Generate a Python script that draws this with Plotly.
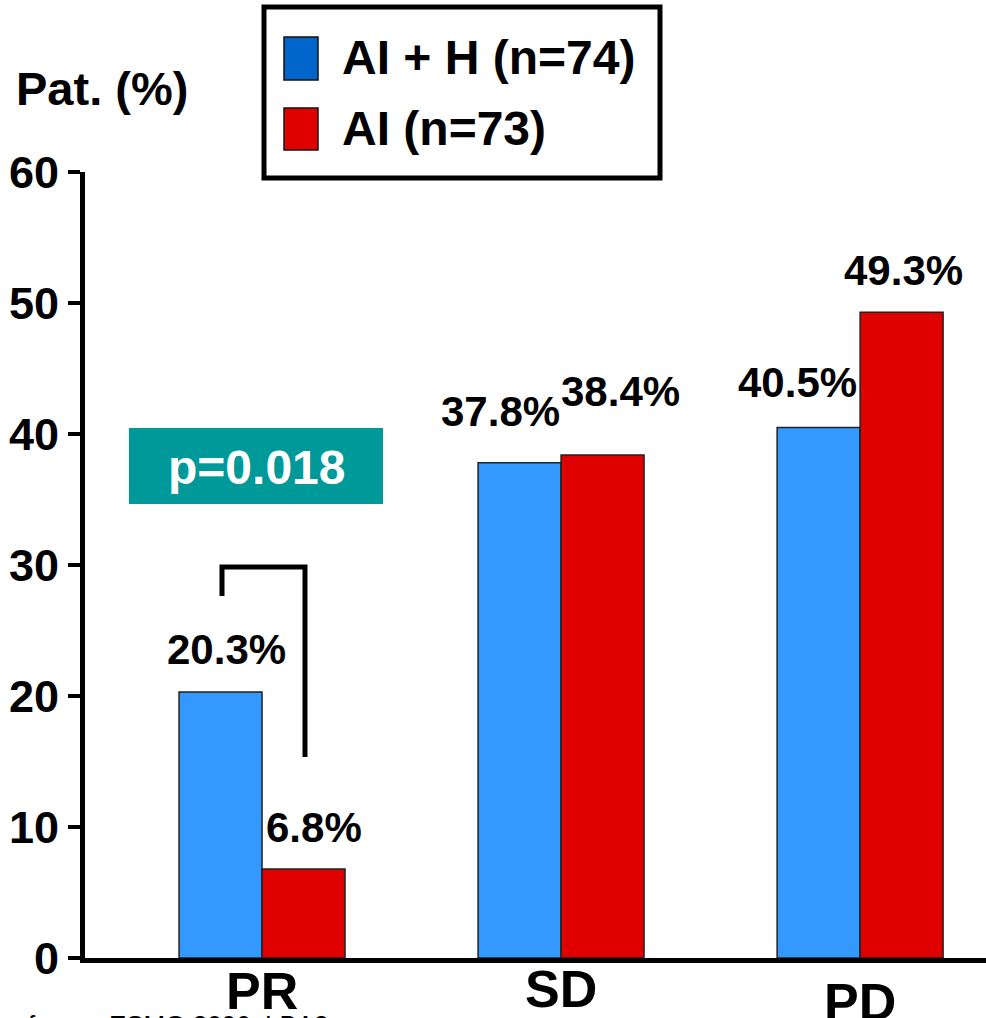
import plotly.graph_objects as go

# Response categories and response rates (%)
categories = ["PR", "SD", "PD"]
ai_h_values = [20.3, 37.8, 40.5]   # AI + H (n=74)
ai_values = [6.8, 38.4, 49.3]      # AI (n=73)
series_names = ["AI + H (n=74)", "AI (n=73)"]
y_ticks = [0, 10, 20, 30, 40, 50, 60]
p_value_text = "p=0.018"

FONT = "Liberation Sans, Arial, Helvetica, sans-serif"
BAR_BLUE = "#3399FF"
BAR_RED = "#E00000"
KEY_BLUE = "#0066CC"
KEY_RED = "#E00000"
TEAL = "#009999"

W, H = 986, 1018
M_L, M_R, M_T, M_B = 85, 0, 172, 60
PW = W - M_L - M_R
PH = H - M_T - M_B


def px_x(px):
    return (px - M_L) / PW


def px_y(py):
    return (H - M_B - py) / PH


fig = go.Figure()
fig.add_trace(go.Bar(
    x=categories, y=ai_h_values, name=series_names[0],
    marker=dict(color=BAR_BLUE, line=dict(color="#222222", width=1.5)),
    showlegend=False,
))
fig.add_trace(go.Bar(
    x=categories, y=ai_values, name=series_names[1],
    marker=dict(color=BAR_RED, line=dict(color="#222222", width=1.5)),
    showlegend=False,
))

annotations = []
shapes = []

# value labels above each bar (offsets in pixels from the bar group centre / bar top)
label_dx = [[-36, 52], [-61, 59], [-63, 43]]
label_dy = [[43, 41], [51, 63], [45, 42]]
for i, cat in enumerate(categories):
    for j, vals in enumerate([ai_h_values, ai_values]):
        annotations.append(dict(
            x=cat, y=vals[i], xref="x", yref="y",
            text=f"{vals[i]:.1f}%", showarrow=False,
            xshift=label_dx[i][j], yshift=label_dy[i][j],
            xanchor="center", yanchor="middle",
            font=dict(family=FONT, size=42, color="black", weight="bold"),
        ))

# category names under the axis
cat_label_y = [991, 989, 1002]
for i, cat in enumerate(categories):
    annotations.append(dict(
        x=cat, y=px_y(cat_label_y[i]), xref="x", yref="paper",
        text=cat, showarrow=False, xanchor="center", yanchor="middle",
        font=dict(family=FONT, size=52, color="black", weight="bold"),
    ))

# axis title
annotations.append(dict(
    x=px_x(14), y=px_y(88), xref="paper", yref="paper",
    text="Pat. (%)", showarrow=False, xanchor="left", yanchor="middle",
    font=dict(family=FONT, size=47, color="black", weight="bold"),
))

# significance box and bracket
shapes.append(dict(
    type="rect", xref="paper", yref="paper",
    x0=px_x(129), x1=px_x(383), y0=px_y(504), y1=px_y(428),
    fillcolor=TEAL, line=dict(width=0), layer="above",
))
annotations.append(dict(
    x=px_x(256), y=px_y(467), xref="paper", yref="paper",
    text=p_value_text, showarrow=False, xanchor="center", yanchor="middle",
    font=dict(family=FONT, size=48, color="white", weight="bold"),
))
shapes.append(dict(
    type="path", xref="paper", yref="paper",
    path=(f"M {px_x(222)},{px_y(596)} L {px_x(222)},{px_y(567)} "
          f"L {px_x(305)},{px_y(567)} L {px_x(305)},{px_y(757)}"),
    line=dict(color="black", width=5), layer="above",
))

# key box
shapes.append(dict(
    type="rect", xref="paper", yref="paper",
    x0=px_x(264), x1=px_x(660), y0=px_y(178), y1=px_y(7),
    fillcolor="white", line=dict(color="black", width=5),
))
key_colors = [KEY_BLUE, KEY_RED]
key_rows = [(37, 80), (108, 150)]
key_text_y = [57, 128]
for k in range(2):
    top, bot = key_rows[k]
    shapes.append(dict(
        type="rect", xref="paper", yref="paper",
        x0=px_x(284), x1=px_x(318), y0=px_y(bot), y1=px_y(top),
        fillcolor=key_colors[k], line=dict(color="#111111", width=1.5),
    ))
    annotations.append(dict(
        x=px_x(340), y=px_y(key_text_y[k]), xref="paper", yref="paper",
        text=series_names[k], showarrow=False, xanchor="left", yanchor="middle",
        font=dict(family=FONT, size=48, color="black", weight="bold"),
    ))

# source line at the foot
annotations.append(dict(
    x=px_x(26), y=px_y(1008), xref="paper", yref="paper",
    text="from:\u00a0\u00a0\u00a0ESMO 2006, LBA2", showarrow=False,
    xanchor="left", yanchor="top",
    font=dict(family=FONT, size=26, color="black"),
))

fig.update_layout(
    width=W, height=H,
    margin=dict(l=M_L, r=M_R, t=M_T, b=M_B, pad=0),
    paper_bgcolor="white", plot_bgcolor="white",
    barmode="group", bargap=0.445, bargroupgap=0,
    annotations=annotations, shapes=shapes,
    showlegend=False,
    xaxis=dict(
        range=[-0.592, 2.421], showline=True, linecolor="black", linewidth=5,
        showticklabels=False, ticks="", showgrid=False, zeroline=False,
    ),
    yaxis=dict(
        range=[0, 60], tickvals=y_ticks, showline=True, linecolor="black",
        linewidth=5, ticks="outside", ticklen=12, tickwidth=4, tickcolor="black",
        showgrid=False, zeroline=False,
        tickfont=dict(family=FONT, size=45, color="black", weight="bold"),
    ),
)

fig.write_html("out.html")
